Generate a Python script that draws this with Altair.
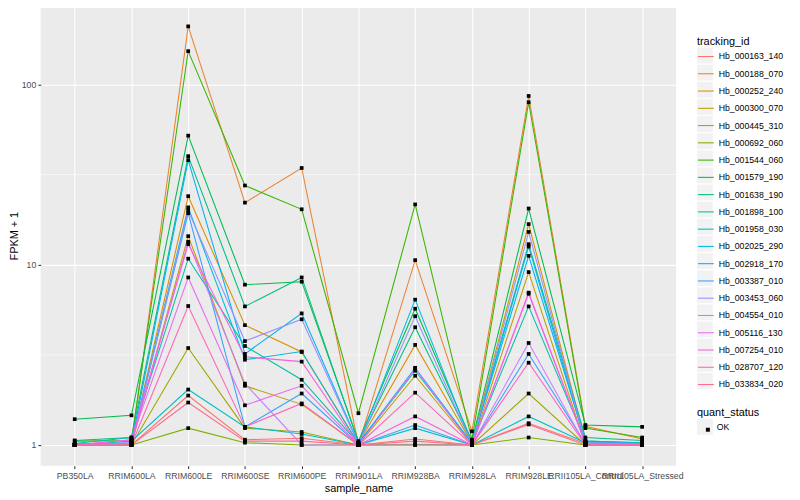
import altair as alt
import pandas as pd

samples = ["PB350LA", "RRIM600LA", "RRIM600LE", "RRIM600SE", "RRIM600PE", "RRIM901LA",
           "RRIM928BA", "RRIM928LA", "RRIM928LE", "RRII105LA_Control", "RRII105LA_Stressed"]

tracking_ids = ["Hb_000163_140", "Hb_000188_070", "Hb_000252_240", "Hb_000300_070",
                "Hb_000445_310", "Hb_000692_060", "Hb_001544_060", "Hb_001579_190",
                "Hb_001638_190", "Hb_001898_100", "Hb_001958_030", "Hb_002025_290",
                "Hb_002918_170", "Hb_003387_010", "Hb_003453_060", "Hb_004554_010",
                "Hb_005116_130", "Hb_007254_010", "Hb_028707_120", "Hb_033834_020"]

palette = ["#F8766D", "#EA8331", "#D89000", "#C09B00", "#A3A500", "#7CAE00", "#39B600",
           "#00BB4E", "#00BF7D", "#00C1A3", "#00BFC4", "#00BAE0", "#00B0F6", "#35A2FF",
           "#9590FF", "#C77CFF", "#E76BF3", "#FA62DB", "#FF62BC", "#FF6C91"]

# FPKM + 1 per sample (order of `samples`)
hb_000163_140 = [1.0, 1.0, 1.88, 1.07, 1.09, 1.0, 1.08, 1.0, 1.32, 1.02, 1.0]
hb_000188_070 = [1.0, 1.01, 210, 22.1, 34.4, 1.0, 10.6, 1.19, 86.3, 1.27, 1.08]
hb_000252_240 = [1.02, 1.02, 24, 4.62, 3.28, 1.02, 3.59, 1.02, 16.8, 1.05, 1.03]
hb_000300_070 = [1.0, 1.0, 14.4, 2.13, 1.68, 1.0, 2.42, 1.0, 9.1, 1.0, 1.0]
hb_000445_310 = [1.0, 1.0, 3.45, 1.24, 1.18, 1.0, 1.01, 1.0, 1.93, 1.0, 1.0]
hb_000692_060 = [1.0, 1.0, 1.24, 1.03, 1.0, 1.0, 1.0, 1.0, 1.1, 1.0, 1.0]
hb_001544_060 = [1.05, 1.06, 153, 27.5, 20.3, 1.5, 21.6, 1.07, 79.6, 1.24, 1.1]
hb_001579_190 = [1.39, 1.46, 52, 7.75, 8.05, 1.05, 5.7, 1.05, 20.5, 1.29, 1.26]
hb_001638_190 = [1.06, 1.1, 40, 5.87, 8.5, 1.03, 4.5, 1.03, 13.0, 1.1, 1.06]
hb_001898_100 = [1.02, 1.1, 10.8, 3.54, 2.3, 1.02, 2.58, 1.02, 5.87, 1.05, 1.03]
hb_001958_030 = [1.0, 1.05, 2.03, 1.26, 1.15, 1.0, 1.24, 1.0, 1.44, 1.03, 1.02]
hb_002025_290 = [1.0, 1.02, 20.8, 2.97, 3.3, 1.01, 6.4, 1.01, 12.6, 1.04, 1.02]
hb_002918_170 = [1.0, 1.03, 38, 3.2, 5.37, 1.02, 2.68, 1.02, 11.2, 1.05, 1.02]
hb_003387_010 = [1.0, 1.02, 19.3, 1.26, 1.93, 1.0, 1.29, 1.0, 3.2, 1.02, 1.0]
hb_003453_060 = [1.0, 1.02, 20.0, 3.77, 4.98, 1.01, 5.18, 1.01, 15.2, 1.03, 1.02]
hb_004554_010 = [1.0, 1.03, 13.4, 2.19, 1.0, 1.0, 1.0, 1.0, 3.68, 1.0, 1.0]
hb_005116_130 = [1.0, 1.07, 8.5, 1.66, 2.13, 1.0, 2.65, 1.0, 6.9, 1.02, 1.0]
hb_007254_010 = [1.0, 1.07, 13.0, 3.08, 2.9, 1.0, 1.44, 1.0, 7.0, 1.02, 1.0]
hb_028707_120 = [1.0, 1.0, 5.9, 1.26, 1.7, 1.0, 1.95, 1.0, 2.86, 1.0, 1.0]
hb_033834_020 = [1.0, 1.0, 1.72, 1.05, 1.05, 1.0, 1.05, 1.0, 1.30, 1.0, 1.0]

series_values = [hb_000163_140, hb_000188_070, hb_000252_240, hb_000300_070, hb_000445_310,
                 hb_000692_060, hb_001544_060, hb_001579_190, hb_001638_190, hb_001898_100,
                 hb_001958_030, hb_002025_290, hb_002918_170, hb_003387_010, hb_003453_060,
                 hb_004554_010, hb_005116_130, hb_007254_010, hb_028707_120, hb_033834_020]

minor_breaks = [3.1623, 31.623]

rows = []
for tid, vals in zip(tracking_ids, series_values):
    for i, (s, v) in enumerate(zip(samples, vals)):
        rows.append({"tracking_id": tid, "sample_name": s, "idx": i,
                     "fpkm1": v, "quant_status": "OK",
                     "key_bg": tid, "key_bg_q": "OK"})
df = pd.DataFrame(rows)
minor_df = pd.DataFrame({"fpkm1": minor_breaks})

FONT = "Liberation Sans"
KEY_BG = "#F2F2F2"
LEG_X = 663
LEG_Y1 = 31
LEG_Y2 = 406

y_scale = alt.Scale(type="log", domain=[0.766, 274])
x_scale = alt.Scale(type="point", padding=0.6)

common_leg = dict(orient="none", padding=0, labelFontSize=8.8, titleFontSize=11,
                  titleFontWeight="normal", labelColor="black", titleColor="black",
                  labelFont=FONT, titleFont=FONT, titlePadding=0.5, labelOffset=4)

x_axis = alt.Axis(title="sample_name", labelAngle=0, labelOverlap=False,
                  labelBound=False, labelAlign="center", grid=True,
                  gridColor="white", gridWidth=1.07,
                  ticks=True, tickSize=2.75, tickColor="#333333", tickWidth=1.07,
                  domain=False, labelColor="#4D4D4D", labelFontSize=8.8,
                  labelPadding=3.5, titleFontSize=11, titleFontWeight="normal",
                  titleColor="black", titlePadding=2, labelFont=FONT, titleFont=FONT)
y_axis = alt.Axis(title="FPKM + 1", values=[1, 10, 100], format="~g",
                  grid=True, gridColor="white", gridWidth=1.07,
                  ticks=True, tickSize=2.75, tickColor="#333333", tickWidth=1.07,
                  domain=False, labelColor="#4D4D4D", labelFontSize=8.8,
                  labelPadding=2.2, titleFontSize=11, titleFontWeight="normal",
                  titleColor="black", titlePadding=1.5, labelFont=FONT, titleFont=FONT)

x_enc = alt.X("sample_name:N", sort=samples, scale=x_scale, axis=x_axis)
y_enc = alt.Y("fpkm1:Q", scale=y_scale, axis=y_axis)

minor = alt.Chart(minor_df).mark_rule(color="white", strokeWidth=0.55).encode(
    y=y_enc
)

# invisible layer that only supplies the grey legend-key backgrounds
key_bg = alt.Chart(df).mark_point(shape="square", filled=True, size=0, opacity=0).encode(
    x=x_enc,
    y=y_enc,
    fill=alt.Fill("key_bg:N", scale=alt.Scale(range=[KEY_BG]),
                  legend=alt.Legend(title=" ", legendX=LEG_X, legendY=LEG_Y1,
                                    symbolType="square", symbolSize=256, symbolOpacity=1,
                                    symbolStrokeWidth=0, labelExpr="''", rowPadding=1.3,
                                    **common_leg)),
    stroke=alt.Stroke("key_bg_q:N", scale=alt.Scale(range=[KEY_BG]),
                      legend=alt.Legend(title="quant_status", legendX=LEG_X, legendY=LEG_Y2,
                                        symbolType="square", symbolSize=256,
                                        symbolOpacity=1, symbolFillColor=KEY_BG,
                                        symbolStrokeWidth=0, rowPadding=1.3,
                                        **common_leg)),
)

lines = alt.Chart(df).mark_line(strokeWidth=1.07).encode(
    x=x_enc,
    y=y_enc,
    order=alt.Order("idx:Q"),
    color=alt.Color("tracking_id:N",
                    scale=alt.Scale(domain=tracking_ids, range=palette),
                    legend=alt.Legend(title="tracking_id", legendX=LEG_X, legendY=LEG_Y1,
                                      symbolType="stroke", symbolSize=256, symbolOpacity=1,
                                      symbolStrokeWidth=1.07, rowPadding=3.44,
                                      **common_leg)),
)

points = alt.Chart(df).mark_point(shape="square", filled=True, color="black", size=14,
                                  opacity=1).encode(
    x=x_enc,
    y=y_enc,
    shape=alt.Shape("quant_status:N", scale=alt.Scale(range=["square"]),
                    legend=alt.Legend(title=None, orient="none", legendX=LEG_X + 6,
                                      legendY=LEG_Y2 + 17.5, symbolSize=16,
                                      symbolFillColor="black", symbolOpacity=1,
                                      labelExpr="''", padding=0)),
)

chart = alt.layer(minor, key_bg, lines, points).properties(
    width=642, height=465,
    autosize=alt.AutoSizeParams(type="none"),
    padding={"left": 33, "top": -5, "right": 117, "bottom": 32},
).configure_view(fill="#EBEBEB", stroke=None)

chart.save("out.html", embed_options={"renderer": "svg", "actions": False})
